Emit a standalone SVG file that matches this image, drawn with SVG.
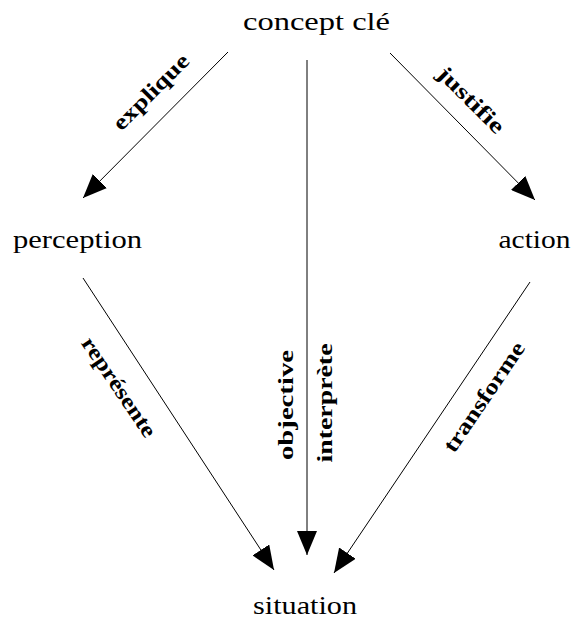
<svg xmlns="http://www.w3.org/2000/svg" width="572" height="618" viewBox="0 0 572 618">
<style>
.node text{font-family:"Liberation Serif","Times New Roman",serif;font-size:25px;fill:#000;text-anchor:middle}
.lbl{font-family:"Liberation Serif","Times New Roman",serif;font-size:22px;font-weight:bold;fill:#000;text-anchor:middle}
.edge{stroke:#000;stroke-width:1;fill:none;marker-end:url(#arr)}
</style>
<defs>
<marker id="arr" markerUnits="userSpaceOnUse" markerWidth="24" markerHeight="20" refX="24" refY="10" orient="auto" viewBox="0 0 24 20">
<path d="M0,0 L24,10 L0,20 Z" fill="#000"/>
</marker>
</defs>
<rect width="572" height="618" fill="#fff"/>
<g id="connectors">
<line class="edge" x1="228" y1="52" x2="83" y2="198"/>
<line class="edge" x1="390" y1="53" x2="535" y2="200"/>
<line class="edge" x1="307" y1="60" x2="307" y2="555"/>
<line class="edge" x1="83" y1="278" x2="274" y2="570"/>
<line class="edge" x1="530" y1="282" x2="334" y2="573"/>
<text class="lbl" transform="translate(156,97) rotate(-45)" textLength="98" lengthAdjust="spacingAndGlyphs">explique</text>
<text class="lbl" transform="translate(466,105) rotate(45)" textLength="85" lengthAdjust="spacingAndGlyphs">justifie</text>
<text class="lbl" transform="translate(113,391) rotate(56)" textLength="116" lengthAdjust="spacingAndGlyphs">représente</text>
<text class="lbl" transform="translate(293,405) rotate(-90)" textLength="110" lengthAdjust="spacingAndGlyphs">objective</text>
<text class="lbl" transform="translate(332,403) rotate(-90)" textLength="119" lengthAdjust="spacingAndGlyphs">interprète</text>
<text class="lbl" transform="translate(490,401) rotate(-56)" textLength="128" lengthAdjust="spacingAndGlyphs">transforme</text>
</g>
<g id="node-concept" class="node"><text x="316.5" y="30" textLength="147" lengthAdjust="spacingAndGlyphs">concept clé</text></g>
<g id="node-perception" class="node"><text x="77.5" y="248" textLength="129" lengthAdjust="spacingAndGlyphs">perception</text></g>
<g id="node-action" class="node"><text x="534.5" y="248" textLength="72" lengthAdjust="spacingAndGlyphs">action</text></g>
<g id="node-situation" class="node"><text x="305" y="614" textLength="104" lengthAdjust="spacingAndGlyphs">situation</text></g>
</svg>
